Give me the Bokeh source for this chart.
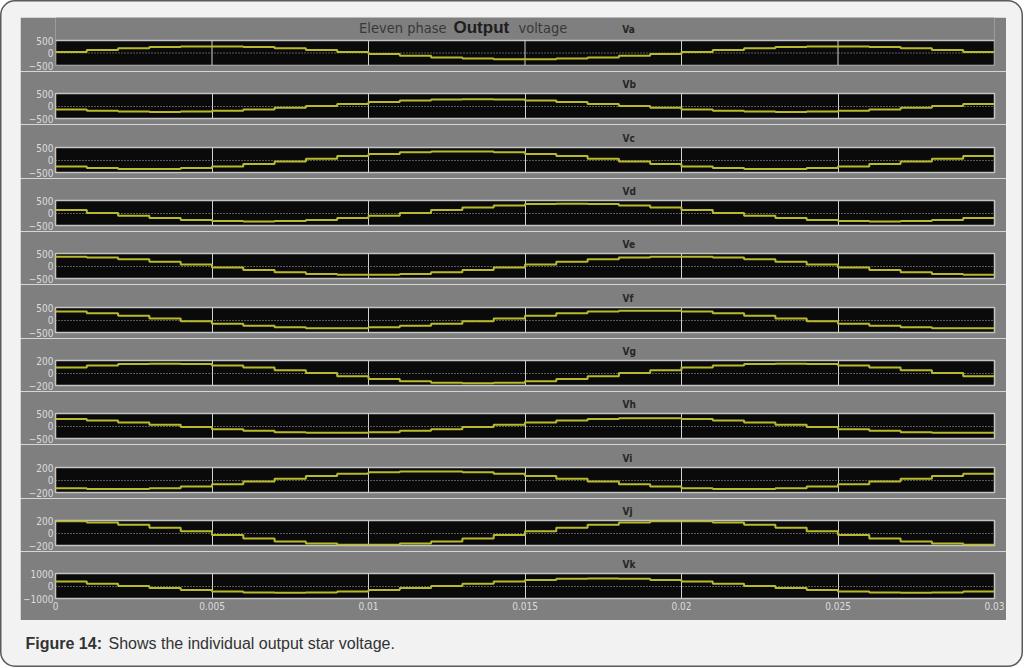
from bokeh.plotting import figure
from bokeh.layouts import column, row
from bokeh.models import Range1d, FixedTicker, Grid, Label, Title
from bokeh.embed import file_html
from bokeh.resources import INLINE

# ---------------- data ----------------
time_ms = [0, 1, 2, 3, 4, 5, 6, 7, 8, 9, 10, 11, 12, 13, 14, 15, 16, 17, 18, 19,
           20, 21, 22, 23, 24, 25, 26, 27, 28, 29, 30]
x_ticks = [0, 0.005, 0.01, 0.015, 0.02, 0.025, 0.03]
x_tick_labels = ["0", "0.005", "0.01", "0.015", "0.02", "0.025", "0.03"]
phase_names = ["Va", "Vb", "Vc", "Vd", "Ve", "Vf", "Vg", "Vh", "Vi", "Vj", "Vk"]
y_limits = [500, 500, 500, 500, 500, 500, 200, 500, 200, 200, 1000]

va = [41, 120, 187, 236, 262, 262, 236, 187, 120, 41, -39, -114, -177, -223, -247,
      -247, -223, -177, -114, -39, 41, 120, 187, 236, 262, 262, 236, 187, 120, 41]
vb = [-138, -190, -223, -235, -223, -190, -138, -73, 0, 85, 162, 222, 262, 275, 262,
      222, 162, 85, 0, -73, -138, -190, -223, -235, -223, -190, -138, -73, 0, 85]
vc = [-255, -321, -356, -356, -321, -255, -163, -56, 54, 158, 245, 309, 343, 343, 309,
      245, 158, 54, -56, -163, -255, -321, -356, -356, -321, -255, -163, -56, 54, 158]
vd = [116, 0, -105, -200, -275, -323, -340, -323, -275, -200, -105, 0, 116, 221, 303,
      357, 375, 357, 303, 221, 116, 0, -105, -200, -275, -323, -340, -323, -275, -200]
ve = [375, 339, 269, 173, 59, -55, -161, -251, -316, -351, -351, -316, -251, -161, -55,
      59, 173, 269, 339, 375, 375, 339, 269, 173, 59, -55, -161, -251, -316, -351]
vf = [339, 269, 173, 59, -51, -150, -233, -294, -326, -326, -294, -233, -150, -51, 59,
      173, 269, 339, 375, 375, 339, 269, 173, 59, -51, -150, -233, -294, -326, -326]
vg = [88, 121, 143, 150, 143, 121, 88, 46, 0, -50, -95, -131, -154, -162, -154,
      -131, -95, -50, 0, 46, 88, 121, 143, 150, 143, 121, 88, 46, 0, -50]
vh = [276, 219, 141, 48, -43, -125, -194, -245, -272, -272, -245, -194, -125, -43, 48,
      141, 219, 276, 306, 306, 276, 219, 141, 48, -43, -125, -194, -245, -272, -272]
vi = [-130, -144, -144, -130, -103, -66, -23, 22, 64, 99, 125, 138, 138, 125, 99,
      64, 22, -23, -66, -103, -130, -144, -144, -130, -103, -66, -23, 22, 64, 99]
vj = [188, 169, 134, 86, 30, -30, -86, -134, -169, -188, -188, -169, -134, -86, -30,
      30, 86, 134, 169, 188, 188, 169, 134, 86, 30, -30, -86, -134, -169, -188]
vk = [353, 185, 0, -167, -318, -437, -514, -540, -514, -437, -318, -167, 0, 185, 353,
      485, 571, 600, 571, 485, 353, 185, 0, -167, -318, -437, -514, -540, -514, -437]

series = [va, vb, vc, vd, ve, vf, vg, vh, vi, vj, vk]

# ---------------- layout / style ----------------
NARROW = "DejaVu Sans Condensed, Roboto"
GRAY = "#7f7f7f"
CARD = "#f2f2f2"
PANEL_BG = "#0a0a0a"
FRAME_LINE = "#c4c4c4"
GRID_LINE = "#d2d2d2"
ZERO_LINE = "#a8a8a8"
WAVE = "#b9b92e"
frame_tops = [40, 93, 147, 200, 253, 307, 360, 413, 467, 520, 573]
FRAME_H = 25
GRAY_LEFT = 20
GRAY_W = 986
GRAY_TOP = 17
GRAY_BOTTOM = 620
CARD_W = 1023
CARD_H = 667
BELOW = 6


def blank(w, h):
    b = figure(width=w, height=h, x_range=Range1d(0, 1), y_range=Range1d(0, 1),
               output_backend="svg", toolbar_location=None,
               x_axis_location=None, y_axis_location=None,
               min_border_left=0, min_border_right=0, min_border_top=0, min_border_bottom=0)
    b.grid.visible = False
    b.outline_line_color = None
    b.background_fill_alpha = 0
    b.border_fill_alpha = 0
    return b


t_sec = [m / 1000.0 for m in time_ms]
overrides = dict(zip(x_ticks, x_tick_labels))

figs = []
for i, name in enumerate(phase_names):
    first = i == 0
    last = i == len(phase_names) - 1
    lim = y_limits[i]
    if first:
        head = frame_tops[0] - GRAY_TOP          # title strip lives inside this frame
        top = 0
        y_rng = Range1d(-lim, lim + head * (2 * lim / FRAME_H))
        frame_h = FRAME_H + head
    else:
        top = frame_tops[i] - (frame_tops[i - 1] + FRAME_H + BELOW)
        y_rng = Range1d(-lim, lim)
        frame_h = FRAME_H
    bottom = GRAY_BOTTOM - (frame_tops[i] + FRAME_H) if last else BELOW

    p = figure(width=GRAY_W, height=top + frame_h + bottom,
               x_range=Range1d(x_ticks[0], x_ticks[-1]), y_range=y_rng,
               output_backend="svg", toolbar_location=None,
               x_axis_location="below" if last else None, y_axis_location="left",
               min_border_left=25, min_border_right=12,
               min_border_top=top, min_border_bottom=bottom)
    p.grid.visible = False
    p.border_fill_color = GRAY

    if first:
        p.background_fill_color = GRAY
        p.outline_line_color = None
        p.quad(left=[x_ticks[0]], right=[x_ticks[-1]], bottom=[-lim], top=[lim],
               fill_color=PANEL_BG, line_color=FRAME_LINE, line_width=1.5, level="image")
        n_inner = len(x_ticks) - 2
        p.segment(x0=x_ticks[1:-1], y0=[-lim] * n_inner,
                  x1=x_ticks[1:-1], y1=[lim] * n_inner,
                  line_color=GRID_LINE, line_width=1, level="image")
        p.segment(x0=[x_ticks[0]], y0=[0], x1=[x_ticks[-1]], y1=[0],
                  line_color=ZERO_LINE, line_width=1, line_dash="1 2", level="image")
    else:
        p.background_fill_color = PANEL_BG
        p.outline_line_color = FRAME_LINE
        p.outline_line_width = 1.5
        p.add_layout(Grid(dimension=0, ticker=FixedTicker(ticks=x_ticks),
                          grid_line_color=GRID_LINE, grid_line_width=1))
        p.add_layout(Grid(dimension=1, ticker=FixedTicker(ticks=[0]),
                          grid_line_color=ZERO_LINE, grid_line_width=1, grid_line_dash="1 2"))

    vals = series[i] + [series[i][-1]]
    p.step(x=t_sec, y=vals, mode="after", line_color=WAVE, line_width=2)

    ya = p.yaxis[0]
    ya.ticker = FixedTicker(ticks=[-lim, 0, lim])
    ya.axis_line_color = None
    ya.major_tick_line_color = None
    ya.minor_tick_line_color = None
    ya.major_tick_in = 0
    ya.major_tick_out = 0
    ya.major_label_standoff = 2
    ya.major_label_text_color = "#dcdcdc"
    ya.major_label_text_font = NARROW
    ya.major_label_text_font_size = "10px"

    if last:
        xa = p.xaxis[0]
        xa.ticker = FixedTicker(ticks=x_ticks)
        xa.major_label_overrides = overrides
        xa.axis_line_color = None
        xa.major_tick_line_color = None
        xa.minor_tick_line_color = None
        xa.major_tick_in = 0
        xa.major_tick_out = 0
        xa.major_label_standoff = 3
        xa.major_label_text_color = "#dcdcdc"
        xa.major_label_text_font = NARROW
        xa.major_label_text_font_size = "10px"

    if first:
        ty = FRAME_H + (frame_tops[0] - 27)
        p.add_layout(Label(x=391, y=ty, x_units="screen", y_units="screen",
                           text="Eleven phase", text_align="right", text_baseline="middle",
                           text_font=NARROW, text_font_size="14.5px", text_color="#383838"))
        p.add_layout(Label(x=398, y=ty, x_units="screen", y_units="screen",
                           text="Output", text_align="left", text_baseline="middle",
                           text_font="Liberation Sans", text_font_style="bold",
                           text_font_size="17px", text_color="#1e1e1e"))
        p.add_layout(Label(x=463, y=ty, x_units="screen", y_units="screen",
                           text="voltage", text_align="left", text_baseline="middle",
                           text_font=NARROW, text_font_size="14.5px", text_color="#383838"))
        p.add_layout(Label(x=573, y=FRAME_H + 11.5, x_units="screen", y_units="screen",
                           text=name, text_align="center", text_baseline="middle",
                           text_font=NARROW, text_font_style="bold",
                           text_font_size="10px", text_color="#262626"))
    else:
        p.add_layout(Title(text=name, align="left", offset=567, standoff=7,
                           text_font=NARROW, text_font_style="bold",
                           text_font_size="10px", text_color="#262626"), "above")
    figs.append(p)

gray_col = column(*figs, spacing=0)
gray_h = GRAY_BOTTOM - GRAY_TOP

cap_h = CARD_H - GRAY_BOTTOM
cap = blank(CARD_W, cap_h)
cap_y = cap_h - (643 - GRAY_BOTTOM)
cap.add_layout(Label(x=25, y=cap_y, x_units="screen", y_units="screen",
                     text="Figure 14:", text_align="left", text_baseline="middle",
                     text_font="Liberation Sans", text_font_style="bold",
                     text_font_size="16px", text_color="#333333"))
cap.add_layout(Label(x=108, y=cap_y, x_units="screen", y_units="screen",
                     text="Shows the individual output star voltage.", text_align="left",
                     text_baseline="middle", text_font="Liberation Sans",
                     text_font_size="16px", text_color="#333333"))

layout = column(blank(CARD_W, GRAY_TOP),
                row(blank(GRAY_LEFT, gray_h), gray_col,
                    blank(CARD_W - GRAY_LEFT - GRAY_W, gray_h), spacing=0),
                cap, spacing=0,
                styles={"background-color": CARD, "border-radius": "15px",
                        "box-shadow": "inset 0 0 0 1.5px #5a5a5a"})

open("out.html", "w").write(file_html(layout, INLINE))
